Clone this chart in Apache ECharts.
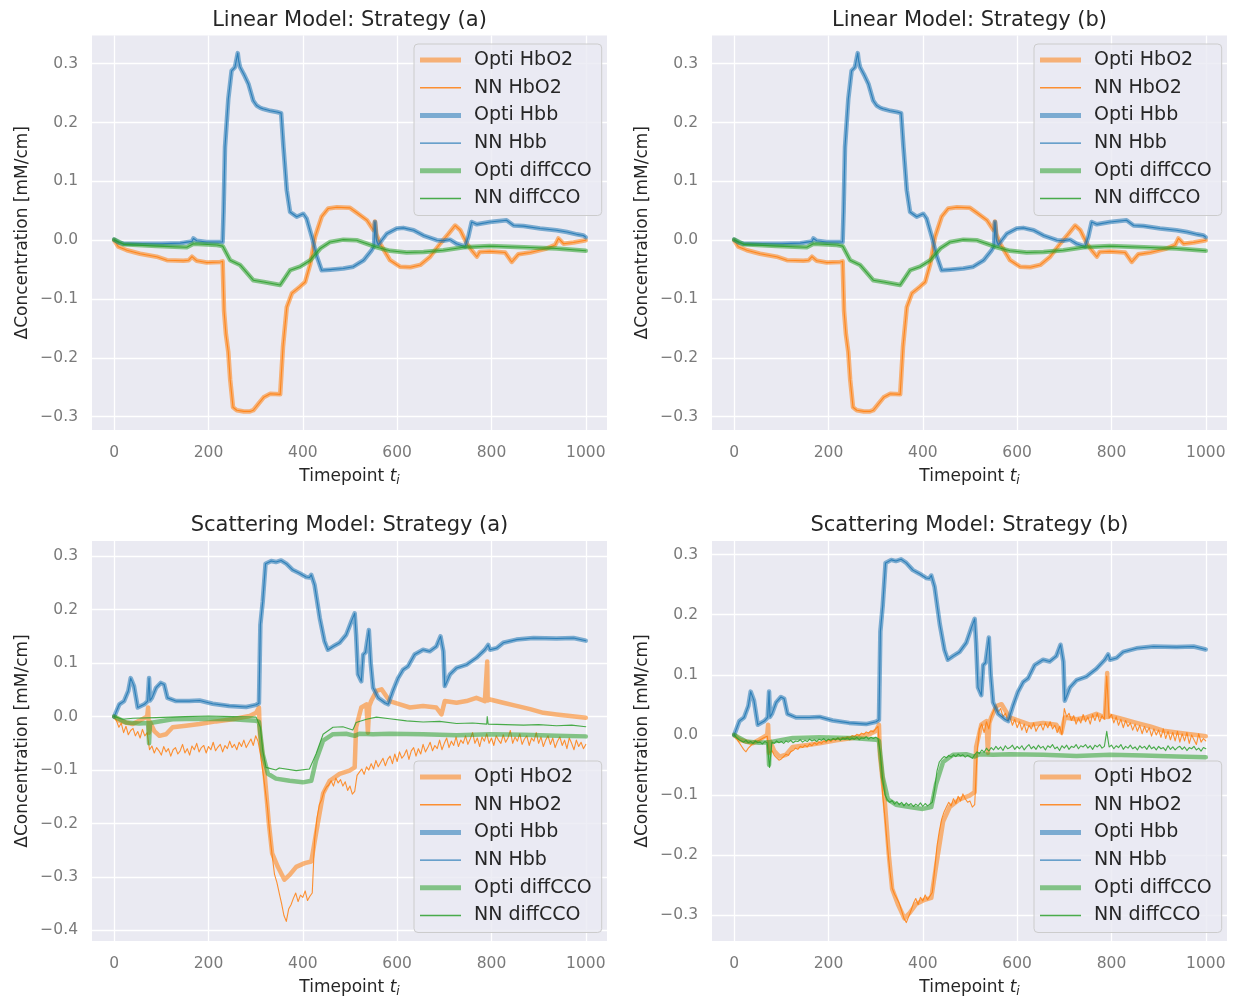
<!DOCTYPE html>
<html><head><meta charset="utf-8">
<script src="https://cdn.jsdelivr.net/npm/echarts@6/dist/echarts.min.js"></script>
<style>html,body{margin:0;padding:0;background:#fff}#c{width:1233px;height:999px}</style>
</head><body><div id="c"></div>
<script>
// ---------------- DATA ----------------
const TITLES = ['Linear Model: Strategy (a)', 'Linear Model: Strategy (b)', 'Scattering Model: Strategy (a)', 'Scattering Model: Strategy (b)'];
const SERIES_NAMES = ['Opti HbO2', 'NN HbO2', 'Opti Hbb', 'NN Hbb', 'Opti diffCCO', 'NN diffCCO'];
const X_TICKS = [0, 200, 400, 600, 800, 1000];
const Y_TICKS_LIN = [-0.3, -0.2, -0.1, 0.0, 0.1, 0.2, 0.3];
const Y_TICKS_SCA_A = [-0.4, -0.3, -0.2, -0.1, 0.0, 0.1, 0.2, 0.3];
const Y_TICKS_SCA_B = [-0.3, -0.2, -0.1, 0.0, 0.1, 0.2, 0.3];
const X_LABEL = 'Timepoint';
const Y_LABEL = 'ΔConcentration [mM/cm]';

// Linear model (Opti and NN coincide), [timepoint, value]
const linHbO2 = [[0,0],[9,-0.011],[27,-0.017],[55,-0.023],[90,-0.028],[112,-0.034],[147,-0.035],[158,-0.034],[165,-0.028],[175,-0.035],[196,-0.038],[225,-0.037],[230,-0.036],[233,-0.12],[237,-0.16],[242,-0.19],[246,-0.237],[252,-0.284],[260,-0.289],[275,-0.291],[288,-0.291],[295,-0.289],[306,-0.278],[317,-0.267],[331,-0.261],[352,-0.262],[358,-0.181],[366,-0.114],[377,-0.090],[394,-0.079],[405,-0.071],[416,-0.040],[426,0.006],[440,0.040],[454,0.054],[472,0.056],[500,0.055],[514,0.047],[536,0.034],[550,0.017],[553,0.032],[556,0.010],[564,-0.006],[585,-0.034],[606,-0.045],[628,-0.046],[649,-0.042],[670,-0.028],[691,-0.006],[709,0.011],[723,0.025],[734,0.017],[748,-0.006],[758,-0.017],[769,-0.028],[775,-0.020],[797,-0.019],[829,-0.021],[843,-0.037],[857,-0.024],[882,-0.021],[917,-0.014],[935,-0.008],[942,0.003],[953,-0.006],[974,-0.004],[1000,0.0]];
const linHbb = [[0,0.001],[10,-0.004],[20,-0.006],[60,-0.006],[100,-0.006],[140,-0.005],[165,-0.002],[168,0.003],[175,-0.001],[196,-0.003],[200,0.0],[215,-0.003],[230,-0.003],[232,0.05],[235,0.158],[242,0.24],[249,0.288],[256,0.294],[260,0.31],[262,0.318],[264,0.305],[267,0.294],[275,0.282],[285,0.265],[295,0.237],[302,0.229],[310,0.225],[317,0.223],[331,0.220],[345,0.218],[354,0.216],[359,0.158],[366,0.085],[373,0.048],[387,0.040],[401,0.045],[408,0.037],[419,0.006],[430,-0.028],[440,-0.051],[458,-0.050],[486,-0.048],[507,-0.045],[529,-0.034],[546,-0.017],[551,-0.010],[553,0.031],[556,0.0],[560,-0.008],[578,0.011],[599,0.020],[613,0.021],[635,0.017],[656,0.008],[684,0.0],[698,-0.001],[712,0.001],[726,-0.006],[744,-0.011],[751,0.006],[758,0.031],[769,0.027],[797,0.031],[832,0.034],[836,0.037],[847,0.025],[868,0.024],[903,0.020],[938,0.017],[960,0.014],[981,0.010],[995,0.008],[1000,0.005]];
const linCCO = [[0,0.001],[20,-0.007],[90,-0.010],[154,-0.012],[168,-0.006],[218,-0.008],[230,-0.010],[246,-0.034],[267,-0.042],[295,-0.068],[317,-0.071],[352,-0.076],[373,-0.051],[394,-0.045],[416,-0.034],[437,-0.014],[458,-0.003],[486,0.001],[514,0.0],[536,-0.006],[557,-0.012],[585,-0.018],[620,-0.021],[656,-0.020],[698,-0.017],[741,-0.012],[797,-0.010],[868,-0.012],[938,-0.014],[1000,-0.018]];

// Scattering model, optimisation results, [timepoint, value]
const scaOptiHbO2 = [[0,0],[11,-0.008],[25,-0.011],[39,-0.014],[53,-0.008],[70,0.0],[72,0.017],[74,-0.03],[76,-0.01],[85,-0.027],[96,-0.036],[110,-0.033],[124,-0.020],[152,-0.017],[181,-0.014],[216,-0.009],[251,-0.005],[287,0.001],[301,0.007],[307,0.017],[309,-0.033],[319,-0.107],[328,-0.200],[335,-0.256],[347,-0.281],[361,-0.305],[372,-0.296],[386,-0.281],[404,-0.274],[418,-0.271],[428,-0.219],[443,-0.144],[457,-0.120],[478,-0.107],[499,-0.101],[510,-0.095],[513,-0.020],[524,0.017],[535,0.023],[538,-0.03],[541,0.02],[545,0.029],[556,0.048],[567,0.051],[584,0.029],[606,0.023],[627,0.017],[655,0.020],[683,0.017],[694,0.004],[701,0.029],[726,0.026],[747,0.029],[768,0.035],[786,0.029],[790,0.029],[791,0.103],[792,0.030],[797,0.032],[825,0.026],[853,0.020],[882,0.014],[910,0.007],[938,0.004],[967,0.001],[1000,-0.002]];
const scaOptiHbb = [[0,0],[11,0.023],[21,0.029],[30,0.048],[35,0.072],[42,0.057],[50,0.017],[64,0.023],[71,0.029],[74,0.072],[76,0.030],[80,0.035],[89,0.054],[99,0.063],[106,0.060],[113,0.035],[131,0.029],[159,0.029],[181,0.030],[209,0.024],[244,0.020],[280,0.018],[301,0.022],[307,0.025],[310,0.172],[315,0.215],[321,0.286],[333,0.291],[343,0.289],[354,0.292],[365,0.286],[379,0.274],[393,0.268],[407,0.261],[414,0.260],[418,0.265],[425,0.246],[436,0.184],[446,0.141],[453,0.125],[464,0.131],[478,0.138],[492,0.153],[503,0.178],[510,0.193],[513,0.153],[517,0.079],[524,0.066],[528,0.116],[533,0.120],[540,0.162],[544,0.100],[549,0.054],[560,0.035],[574,0.026],[581,0.023],[591,0.048],[602,0.072],[613,0.088],[623,0.094],[637,0.116],[655,0.125],[669,0.122],[683,0.131],[692,0.150],[698,0.122],[701,0.057],[712,0.079],[726,0.091],[747,0.097],[768,0.110],[786,0.125],[793,0.134],[797,0.125],[811,0.128],[825,0.138],[853,0.144],[889,0.147],[938,0.146],[974,0.147],[1000,0.142]];
const scaOptiCCO = [[0,0],[25,-0.011],[53,-0.013],[72,-0.012],[74,-0.050],[76,-0.012],[124,-0.005],[181,-0.004],[251,-0.005],[301,-0.008],[307,-0.010],[315,-0.070],[326,-0.107],[343,-0.116],[372,-0.120],[400,-0.123],[418,-0.120],[428,-0.082],[443,-0.045],[464,-0.033],[492,-0.032],[510,-0.036],[520,-0.032],[549,-0.033],[584,-0.032],[655,-0.033],[726,-0.035],[797,-0.033],[868,-0.034],[938,-0.036],[1000,-0.037]];

// Scattering model, NN estimates. Noisy traces are sampled every NN_STEP timepoints (10 values = 50 timepoints per row).
const NN_STEP = 5;
const scaNnHbO2_a = [
  0,-0.008,-0.020,-0.012,-0.030,-0.018,-0.034,-0.026,-0.022,-0.036,
  -0.028,-0.040,-0.024,-0.036,-0.030,-0.062,-0.055,-0.068,-0.058,-0.064,
  -0.072,-0.056,-0.066,-0.060,-0.074,-0.062,-0.058,-0.070,-0.064,-0.052,
  -0.068,-0.060,-0.072,-0.055,-0.062,-0.050,-0.066,-0.058,-0.054,-0.068,
  -0.056,-0.062,-0.048,-0.064,-0.057,-0.052,-0.066,-0.054,-0.060,-0.046,
  -0.058,-0.052,-0.062,-0.048,-0.056,-0.044,-0.058,-0.050,-0.042,-0.054,
  -0.036,-0.046,-0.070,-0.100,-0.135,-0.170,-0.220,-0.260,-0.295,-0.310,
  -0.330,-0.350,-0.372,-0.383,-0.360,-0.352,-0.340,-0.330,-0.346,-0.334,
  -0.338,-0.326,-0.344,-0.336,-0.330,-0.230,-0.190,-0.165,-0.155,-0.140,
  -0.132,-0.128,-0.120,-0.130,-0.115,-0.124,-0.118,-0.130,-0.122,-0.138,
  -0.130,-0.145,-0.140,-0.110,-0.104,-0.098,-0.108,-0.094,-0.100,-0.088,
  -0.098,-0.082,-0.094,-0.086,-0.078,-0.092,-0.080,-0.074,-0.088,-0.070,
  -0.084,-0.066,-0.078,-0.072,-0.062,-0.080,-0.064,-0.058,-0.074,-0.060,
  -0.070,-0.052,-0.066,-0.058,-0.048,-0.064,-0.054,-0.060,-0.044,-0.062,
  -0.050,-0.040,-0.058,-0.046,-0.054,-0.038,-0.056,-0.044,-0.050,-0.036,
  -0.052,-0.042,-0.030,-0.050,-0.040,-0.056,-0.038,-0.046,-0.032,-0.050,
  -0.040,-0.054,-0.036,-0.044,-0.050,-0.034,-0.048,-0.040,-0.026,-0.050,
  -0.038,-0.046,-0.032,-0.052,-0.042,-0.036,-0.054,-0.040,-0.046,-0.030,
  -0.050,-0.038,-0.056,-0.044,-0.036,-0.052,-0.040,-0.058,-0.046,-0.038,
  -0.054,-0.044,-0.060,-0.040,-0.050,-0.062,-0.044,-0.056,-0.048,-0.060,
  -0.052];
const scaNnCCO_a = [[0,0],[18,-0.005],[40,-0.003],[89,-0.002],[150,0.0],[200,0.001],[250,0.0],[301,-0.001],[310,-0.020],[315,-0.064],[322,-0.095],[343,-0.100],[350,-0.096],[386,-0.101],[414,-0.098],[428,-0.070],[443,-0.033],[464,-0.020],[485,-0.019],[506,-0.025],[513,-0.011],[535,-0.005],[556,-0.001],[584,-0.004],[620,-0.008],[655,-0.010],[690,-0.009],[726,-0.013],[760,-0.012],[790,-0.014],[791,0.0],[793,-0.014],[830,-0.015],[868,-0.016],[900,-0.015],[938,-0.017],[970,-0.016],[1000,-0.019]];
const scaNnHbO2_b = [
  0,-0.006,-0.012,-0.018,-0.024,-0.028,-0.022,-0.018,-0.014,-0.012,
  -0.010,-0.008,-0.006,-0.004,-0.002,-0.030,-0.026,-0.034,-0.038,-0.042,
  -0.040,-0.036,-0.032,-0.034,-0.028,-0.026,-0.022,-0.024,-0.019,-0.021,
  -0.017,-0.020,-0.015,-0.018,-0.013,-0.016,-0.012,-0.014,-0.010,-0.012,
  -0.008,-0.011,-0.007,-0.009,-0.005,-0.008,-0.004,-0.006,-0.003,-0.005,
  -0.001,-0.003,0.001,-0.001,0.003,0.001,0.005,0.003,0.007,0.005,
  0.010,0.014,-0.040,-0.100,-0.140,-0.185,-0.225,-0.255,-0.265,-0.272,
  -0.280,-0.292,-0.305,-0.312,-0.302,-0.292,-0.280,-0.272,-0.282,-0.270,
  -0.276,-0.266,-0.274,-0.268,-0.262,-0.225,-0.185,-0.160,-0.140,-0.128,
  -0.120,-0.112,-0.118,-0.106,-0.114,-0.102,-0.110,-0.098,-0.106,-0.112,
  -0.110,-0.120,-0.116,-0.030,0.010,0.018,0.004,0.022,0.010,0.030,
  0.040,0.048,0.038,0.044,0.030,0.036,0.024,0.030,0.016,0.026,
  0.012,0.022,0.008,0.018,0.004,0.016,0.010,0.020,0.006,0.014,
  0.018,0.008,0.020,0.012,0.022,0.010,0.016,0.004,0.014,0.000,
  0.044,0.030,0.036,0.024,0.032,0.018,0.028,0.020,0.034,0.022,
  0.030,0.018,0.034,0.024,0.036,0.022,0.032,0.026,0.098,0.028,
  0.034,0.020,0.030,0.016,0.026,0.012,0.024,0.014,0.020,0.008,
  0.018,0.006,0.016,0.002,0.014,0.004,0.012,-0.002,0.010,0.000,
  0.008,-0.004,0.010,-0.006,0.006,-0.008,0.004,-0.010,0.006,-0.012,
  0.002,-0.010,0.004,-0.014,0.000,-0.008,-0.016,0.002,-0.012,-0.006,
  -0.010];
const scaNnCCO_b = [
  0,-0.004,-0.008,-0.010,-0.012,-0.009,-0.013,-0.011,-0.014,-0.010,
  -0.013,-0.012,-0.015,-0.011,-0.013,-0.054,-0.012,-0.014,-0.010,-0.013,
  -0.011,-0.014,-0.010,-0.012,-0.009,-0.013,-0.010,-0.011,-0.008,-0.012,
  -0.009,-0.011,-0.007,-0.010,-0.008,-0.011,-0.007,-0.009,-0.006,-0.010,
  -0.007,-0.009,-0.006,-0.008,-0.005,-0.009,-0.006,-0.007,-0.005,-0.008,
  -0.005,-0.007,-0.004,-0.008,-0.005,-0.006,-0.003,-0.007,-0.004,-0.006,
  -0.004,-0.006,-0.030,-0.075,-0.100,-0.108,-0.112,-0.109,-0.115,-0.111,
  -0.116,-0.112,-0.118,-0.113,-0.117,-0.114,-0.119,-0.115,-0.118,-0.113,
  -0.119,-0.114,-0.118,-0.115,-0.112,-0.090,-0.060,-0.045,-0.040,-0.036,
  -0.038,-0.034,-0.037,-0.033,-0.036,-0.032,-0.035,-0.033,-0.037,-0.034,
  -0.036,-0.039,-0.033,-0.028,-0.031,-0.025,-0.029,-0.022,-0.027,-0.021,
  -0.025,-0.019,-0.024,-0.020,-0.026,-0.018,-0.023,-0.021,-0.017,-0.024,
  -0.019,-0.023,-0.018,-0.025,-0.020,-0.016,-0.023,-0.019,-0.024,-0.017,
  -0.022,-0.019,-0.025,-0.018,-0.021,-0.016,-0.023,-0.020,-0.026,-0.018,
  -0.022,-0.017,-0.024,-0.019,-0.021,-0.016,-0.023,-0.018,-0.020,-0.016,
  -0.022,-0.018,-0.024,-0.017,-0.020,-0.016,-0.022,-0.019,0.006,-0.020,
  -0.017,-0.023,-0.018,-0.021,-0.016,-0.024,-0.019,-0.022,-0.017,-0.023,
  -0.020,-0.025,-0.018,-0.022,-0.019,-0.024,-0.017,-0.023,-0.020,-0.025,
  -0.019,-0.023,-0.021,-0.026,-0.018,-0.024,-0.020,-0.025,-0.021,-0.019,
  -0.024,-0.020,-0.026,-0.021,-0.023,-0.019,-0.025,-0.022,-0.027,-0.021,
  -0.023];

// ---------------- CHART ----------------
const toPairs = (vals) => vals.map((v, i) => [i * NN_STEP, v]);
const FONT = 'DejaVu Sans';
const COLORS = {HbO2: '#ff7f0e', Hbb: '#1f77b4', CCO: '#2ca02c'};
const ICON_THICK = 'path://M0,0H41V5H0Z';
const ICON_THIN = 'path://M0,0H41V1.4H0Z';

const panels = [
  {grid: {left: 92, top: 35.5, width: 515, height: 394.5}, ymin: -0.3226, ymax: 0.348, yticks: Y_TICKS_LIN,
   data: [linHbO2, linHbO2, linHbb, linHbb, linCCO, linCCO], legendTop: 44},
  {grid: {left: 712, top: 35.5, width: 515, height: 394.5}, ymin: -0.3226, ymax: 0.348, yticks: Y_TICKS_LIN,
   data: [linHbO2, linHbO2, linHbb, linHbb, linCCO, linCCO], legendTop: 44},
  {grid: {left: 92, top: 541, width: 515, height: 402}, ymin: -0.4197, ymax: 0.3284, yticks: Y_TICKS_SCA_A,
   data: [scaOptiHbO2, toPairs(scaNnHbO2_a), scaOptiHbb, scaOptiHbb, scaOptiCCO, scaNnCCO_a], legendTop: 761},
  {grid: {left: 712, top: 541, width: 515, height: 402}, ymin: -0.3426, ymax: 0.3224, yticks: Y_TICKS_SCA_B,
   data: [scaOptiHbO2, toPairs(scaNnHbO2_b), scaOptiHbb, scaOptiHbb, scaOptiCCO, toPairs(scaNnCCO_b)], legendTop: 761},
];
const seriesColor = [COLORS.HbO2, COLORS.HbO2, COLORS.Hbb, COLORS.Hbb, COLORS.CCO, COLORS.CCO];
const legendColor = ['rgba(255,127,14,0.55)', 'rgba(255,127,14,0.85)', 'rgba(31,119,180,0.55)', 'rgba(31,119,180,0.85)', 'rgba(44,160,44,0.55)', 'rgba(44,160,44,0.85)'];
const isThick = [true, false, true, false, true, false];

const fmtY = v => (Math.abs(v) < 1e-9 ? '0.0' : v.toFixed(1).replace('-', '\u2212'));
const fmtX = v => String(Math.round(v));

const option = {
  animation: false,
  backgroundColor: '#ffffff',
  textStyle: {fontFamily: FONT},
  title: panels.map((p, i) => ({
    text: TITLES[i], left: p.grid.left + p.grid.width / 2, textAlign: 'center',
    top: i < 2 ? 10 : 515, padding: 0,
    textStyle: {fontFamily: FONT, fontSize: 21, fontWeight: 'normal', color: '#262626'}
  })),
  grid: panels.map(p => Object.assign({show: true, backgroundColor: '#eaeaf2', borderWidth: 0, containLabel: false}, p.grid)),
  xAxis: panels.map((p, i) => ({
    type: 'value', gridIndex: i, min: -47, max: 1045,
    axisLine: {show: false}, axisTick: {show: false, customValues: X_TICKS},
    axisLabel: {customValues: X_TICKS, color: '#7a7a7a', fontSize: 15.5, fontFamily: FONT, margin: 15, formatter: fmtX},
    splitLine: {show: true, lineStyle: {color: '#ffffff', width: 1.3}},
    name: '{a|' + X_LABEL + ' }{b|t}{c|i}', nameLocation: 'middle', nameGap: 37,
    nameTextStyle: {color: '#262626', fontFamily: FONT, fontSize: 17, rich: {
      a: {fontSize: 17, fontFamily: FONT, color: '#262626'},
      b: {fontSize: 17, fontFamily: FONT, fontStyle: 'italic', color: '#262626'},
      c: {fontSize: 12, fontFamily: FONT, fontStyle: 'italic', color: '#262626', padding: [8, 0, 0, 0]}
    }}
  })),
  yAxis: panels.map((p, i) => ({
    type: 'value', gridIndex: i, min: p.ymin, max: p.ymax,
    axisLine: {show: false}, axisTick: {show: false, customValues: p.yticks},
    axisLabel: {customValues: p.yticks, color: '#7a7a7a', fontSize: 15.5, fontFamily: FONT, margin: 14, formatter: fmtY},
    splitLine: {show: true, lineStyle: {color: '#ffffff', width: 1.3}},
    name: Y_LABEL, nameLocation: 'middle', nameGap: 61, nameRotate: 90,
    nameTextStyle: {color: '#262626', fontFamily: FONT, fontSize: 17}
  })),
  legend: panels.map(p => ({
    orient: 'vertical', left: p.grid.left + 322, top: p.legendTop,
    itemWidth: 41, itemHeight: 6, itemGap: 7.7,
    padding: [6, 10, 7, 6],
    symbolKeepAspect: true,
    backgroundColor: 'rgba(234,234,242,0.8)', borderColor: '#cccccc', borderWidth: 1, borderRadius: 4,
    selectedMode: false,
    textStyle: {fontFamily: FONT, fontSize: 19, color: '#262626', lineHeight: 20, padding: [0, 0, 0, 8]},
    data: SERIES_NAMES.map((n, k) => ({
      name: n,
      icon: isThick[k] ? ICON_THICK : ICON_THIN,
      itemStyle: {color: legendColor[k], opacity: 1, borderWidth: 0, decal: 'none'},
      lineStyle: {width: 0, opacity: 0}
    }))
  })),
  series: []
};

panels.forEach((p, i) => {
  SERIES_NAMES.forEach((n, k) => {
    option.series.push({
      type: 'line', name: n, xAxisIndex: i, yAxisIndex: i, data: p.data[k],
      symbol: 'none', showSymbol: false, silent: true, clip: true,
      itemStyle: {color: seriesColor[k]},
      lineStyle: {color: seriesColor[k], width: isThick[k] ? 4.5 : 1.1, opacity: isThick[k] ? 0.55 : 0.85, cap: 'round', join: 'round'}
    });
  });
});

const chart = echarts.init(document.getElementById('c'), null, {renderer: 'canvas'});
chart.setOption(option);
</script>
</body></html>
